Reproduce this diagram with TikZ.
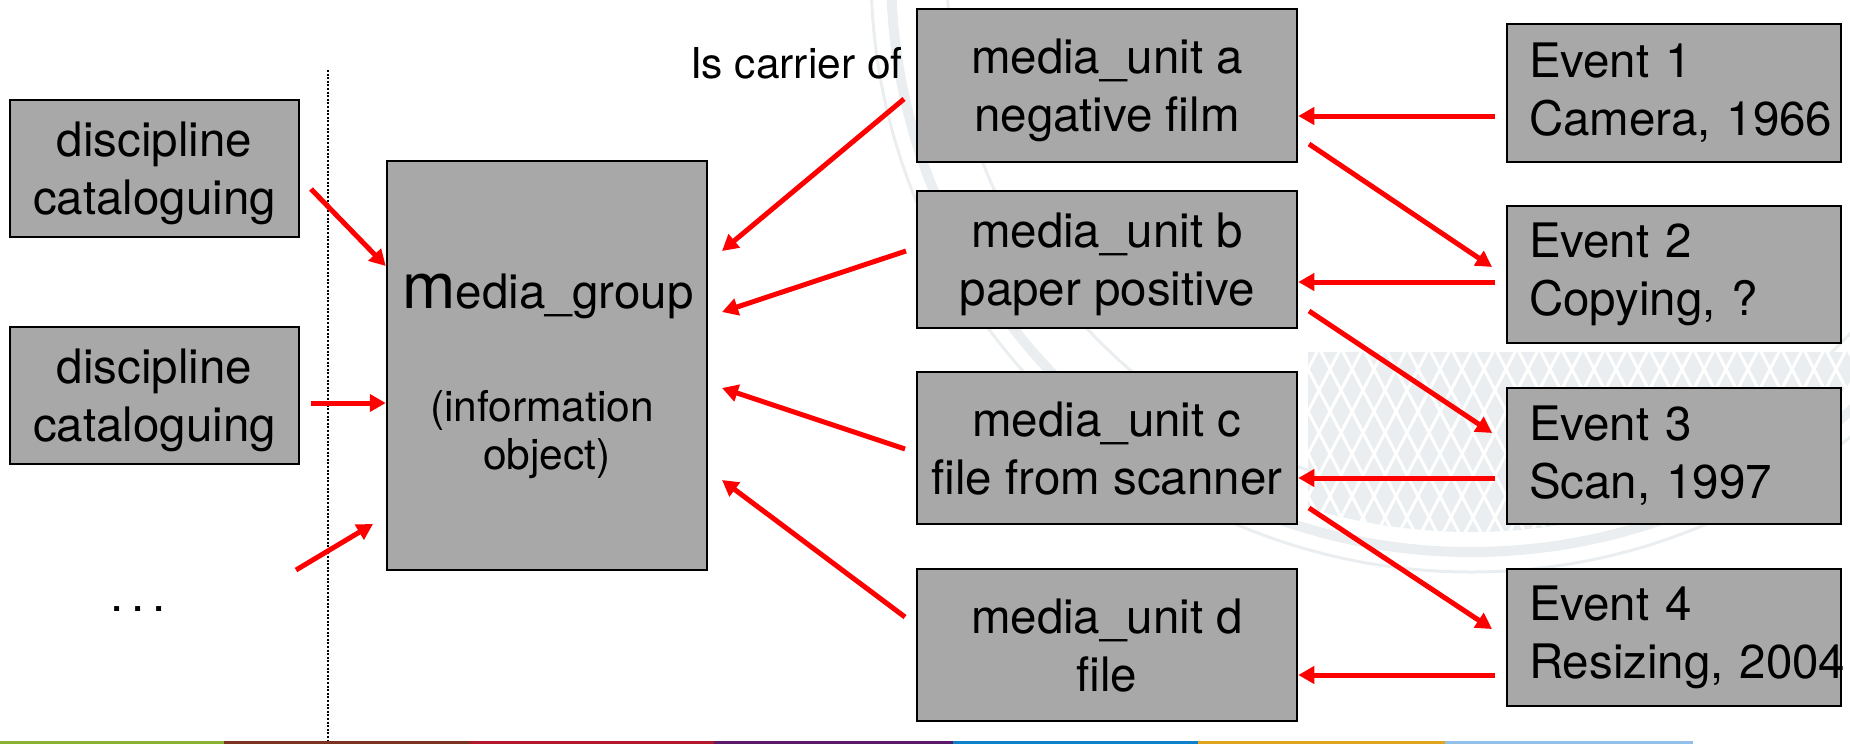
\documentclass[tikz,border=0pt]{standalone}
\usepackage{fontspec}
\setmainfont{TeX Gyre Heros}
\usetikzlibrary{arrows.meta,calc}

\definecolor{boxgray}{RGB}{168,168,168}
\definecolor{sealtone}{RGB}{234,238,240}
\definecolor{barA}{RGB}{138,178,50}
\definecolor{barB}{RGB}{124,50,32}
\definecolor{barC}{RGB}{178,24,42}
\definecolor{barD}{RGB}{92,26,106}
\definecolor{barE}{RGB}{12,128,200}
\definecolor{barF}{RGB}{224,165,32}
\definecolor{barG}{RGB}{146,192,232}

\newcommand\boxfont{\fontsize{23.75pt}{29pt}\selectfont}
\newcommand\infofont{\fontsize{21.25pt}{24pt}\selectfont}
\newcommand\mgfont{\fontsize{32pt}{32pt}\selectfont}

\begin{document}
\begin{tikzpicture}[x=0.5pt,y=-0.5pt,
  box/.style={draw=black, line width=1.25pt, fill=boxgray, inner sep=0pt,
              align=center, font=\boxfont},
  evbox/.style={box, align=left, text width=145pt, inner xsep=11pt,
                minimum width=167pt, minimum height=68.5pt},
  unitbox/.style={box, minimum width=190pt, text depth=0pt},
  discbox/.style={box, minimum width=144.5pt, minimum height=68.5pt, text depth=0pt},
  plain/.style={inner sep=0pt},
  arr/.style={draw=red, line width=2.5pt, -{Triangle[length=8pt,width=8.5pt]}}
]
\useasboundingbox (0,0) rectangle (1850,744);

% faint seal in the background
\draw[sealtone, line width=5pt] (1471,-28) circle[radius=290pt];
\draw[sealtone, line width=1.5pt] (1471,-28) circle[radius=300pt];
\draw[sealtone, line width=1.5pt] (1471,-28) circle[radius=262pt];
\begin{scope}
  \clip (1471,-28) circle[radius=280pt];
  \clip (1308,352) rectangle (1850,600);
  \fill[sealtone] (1290,350) rectangle (1850,600);
  \foreach \k in {0,...,40} {
    \draw[white, line width=1.5pt] ({1100+22*\k},350) -- ++(130,250);
    \draw[white, line width=1.5pt] ({1100+22*\k},600) -- ++(130,-250);
  }
\end{scope}

% separator between the catalogues and the object
\draw[line width=1pt, dash pattern=on 1pt off 0.8pt] (328,70) -- (328,744);

% catalogue side
\node[discbox] (d1) at (154.5,168.5) {discipline\\cataloguing};
\node[discbox] (d2) at (154.5,395.5) {discipline\\cataloguing};
\node[plain, anchor=base, font=\boxfont] (more) at (138,611) {.\kern3.9pt.\kern3.9pt.};

% the information object
\node[box, minimum width=160pt, minimum height=204.5pt] (mg) at (547,365.5) {};
\node[plain, anchor=base, font=\boxfont] (mgt) at (548,308) {{\mgfont m}edia\_group};
\node[plain, anchor=base, font=\infofont] (mgi1) at (542,421) {(information};
\node[plain, anchor=base, font=\infofont] (mgi2) at (547,469) {object)};

% carriers
\node[plain, anchor=base east, font=\infofont] (carrier) at (903,78) {Is carrier of};
\node[unitbox, minimum height=76.5pt] (ma) at (1107,85.5) {media\_unit a\\negative film};
\node[unitbox, minimum height=68.5pt] (mb) at (1107,259.5) {media\_unit b\\paper positive};
\node[unitbox, minimum height=76pt] (mc) at (1107,448) {media\_unit c\\file from scanner};
\node[unitbox, minimum height=76pt] (md) at (1107,645) {media\_unit d\\file};

% events
\node[evbox, minimum height=69pt] (e1) at (1674,93) {Event~1\\Camera,~1966};
\node[evbox] (e2) at (1674,274.5) {Event~2\\Copying,~?};
\node[evbox, minimum height=68pt] (e3) at (1674,456) {Event~3\\Scan,~1997};
\node[evbox] (e4) at (1674,637.5) {Event~4\\Resizing,~2004};

% catalogues describe the object
\coordinate (l1) at (311,189);
\coordinate (l2) at (311,403);
\coordinate (l3) at (296,570);
\coordinate (l3e) at (373,524);
\draw[arr] (l1) -- (mg.west |- 0,266);
\draw[arr] (l2) -- (mg.west |- l2);
\draw[arr] (l3) -- (l3e);

% carriers point to the object
\coordinate (ca) at (904,99);   \coordinate (ga) at (722,251);
\coordinate (cb) at (906,251);  \coordinate (gb) at (722,312);
\coordinate (cc) at (905,449);  \coordinate (gc) at (722,388);
\coordinate (cd) at (905,617);  \coordinate (gd) at (722,480);
\draw[arr] (ca) -- (ga);
\draw[arr] (cb) -- (gb);
\draw[arr] (cc) -- (gc);
\draw[arr] (cd) -- (gd);

% events produce carriers
\coordinate (h1) at (1495,116);
\coordinate (h2) at (1495,282);
\coordinate (h3) at (1495,478);
\coordinate (h4) at (1495,675);
\draw[arr] (h1) -- (ma.east |- h1);
\draw[arr] (h2) -- (mb.east |- h2);
\draw[arr] (h3) -- (mc.east |- h3);
\draw[arr] (h4) -- (md.east |- h4);

% carriers feed the next event
\coordinate (sa) at (1309,144);  \coordinate (t2) at (1492,267);
\coordinate (sb) at (1309,311);  \coordinate (t3) at (1492,433);
\coordinate (sc) at (1309,508);  \coordinate (t4) at (1492,629);
\draw[arr] (sa) -- (t2);
\draw[arr] (sb) -- (t3);
\draw[arr] (sc) -- (t4);

% coloured strip along the bottom edge
\fill[barA] (0,741) rectangle (224,744);
\fill[barB] (224,741) rectangle (470,744);
\fill[barC] (470,741) rectangle (714,744);
\fill[barD] (714,741) rectangle (953,744);
\fill[barE] (953,741) rectangle (1198,744);
\fill[barF] (1198,741) rectangle (1445,744);
\fill[barG] (1445,741) rectangle (1693,744);
\end{tikzpicture}
\end{document}
